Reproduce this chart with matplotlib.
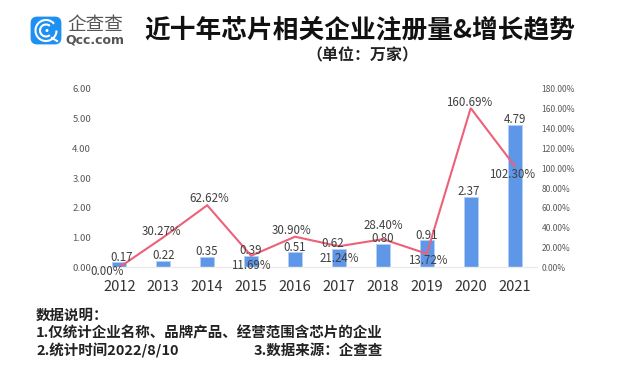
import matplotlib
matplotlib.use("Agg")
import matplotlib.pyplot as plt
from matplotlib.patches import FancyBboxPatch, Arc, Circle

plt.rcParams['font.family'] = ['Noto Sans CJK SC', 'DejaVu Sans']

years = ['2012', '2013', '2014', '2015', '2016', '2017', '2018', '2019', '2020', '2021']
counts = [0.17, 0.22, 0.35, 0.39, 0.51, 0.62, 0.80, 0.91, 2.37, 4.79]
growth = [0.00, 30.27, 62.62, 11.69, 30.90, 21.24, 28.40, 13.72, 160.69, 102.30]

left_ticks = [0, 1, 2, 3, 4, 5, 6]
right_ticks = [0, 20, 40, 60, 80, 100, 120, 140, 160, 180]

# label nudges in pixels, picked by eye
count_dx = [2, 0, -1, 0, 0, -6, 0, 0, -2, 0]
growth_off = [(-12, -4), (-1.5, 6), (2.5, 6.5), (0, -9.5), (-3, 6),
              (0, -12), (0, 14), (0.5, -6.5), (-1.5, 6), (-3, -9)]

BLUE = "#5E96E8"
PINK = "#EE6079"
GREY = "#404040"

W, H = 624, 378
fig = plt.figure(figsize=(W / 100, H / 100), dpi=100, facecolor="white")

ax = fig.add_axes([97.4 / W, 1 - 267.3 / H, 439.2 / W, 178.3 / H])
x = list(range(len(years)))
ax.bar(x, counts, width=0.32, color=BLUE, edgecolor="#B5CFF5", linewidth=0.6)
ax.set_xlim(-0.5, 9.5)
ax.set_ylim(0, 6)
ax.set_xticks(x)
ax.set_xticklabels(years, fontsize=10.6, color="#333333")
ax.set_yticks(left_ticks)
ax.set_yticklabels([f"{t:.2f}" for t in left_ticks], fontsize=6.9, color="#595959")
ax.tick_params(axis="both", length=0)
ax.tick_params(axis="x", pad=9.3)
ax.tick_params(axis="y", pad=4.5)
for s in ["top", "left", "right"]:
    ax.spines[s].set_visible(False)
ax.spines["bottom"].set_color("#EBEBEB")
ax.spines["bottom"].set_linewidth(1.0)

ax2 = ax.twinx()
ax2.plot(x, growth, color=PINK, linewidth=1.5, solid_joinstyle="miter")
ax2.set_ylim(0, 180)
ax2.set_yticks(right_ticks)
ax2.set_yticklabels([f"{t:.2f}%" for t in right_ticks], fontsize=6.1, color="#595959")
ax2.tick_params(axis="y", length=0, pad=3.6)
for s in ["top", "left", "right", "bottom"]:
    ax2.spines[s].set_visible(False)

for i, v in enumerate(counts):
    ax2.annotate(f"{v:.2f}", xy=(i, v * 30), xytext=(count_dx[i], 5), textcoords="offset pixels",
                 ha="center", va="center", fontsize=8.3, color=GREY)
for i, v in enumerate(growth):
    ax2.annotate(f"{v:.2f}%", xy=(i, v), xytext=growth_off[i], textcoords="offset pixels",
                 ha="center", va="center", fontsize=8.3, color=GREY)

# overlay in pixel coordinates for title, notes and logo
top = fig.add_axes([0, 0, 1, 1], facecolor="none")
top.set_xlim(0, W)
top.set_ylim(H, 0)
top.axis("off")

top.text(360, 30, "近十年芯片相关企业注册量&增长趋势", fontsize=18.5, fontweight="bold",
         ha="center", va="center", color="#111111")
top.text(362, 55, "（单位：万家）", fontsize=11.5, fontweight="bold",
         ha="center", va="center", color="#222222")

top.text(36, 316, "数据说明：", fontsize=10.45, fontweight="bold", va="center", color="#222222")
top.text(36, 333, "1.仅统计企业名称、品牌产品、经营范围含芯片的企业", fontsize=10.45, fontweight="bold",
         va="center", color="#222222")
top.text(36, 351, "2.统计时间2022/8/10", fontsize=10.45, fontweight="bold", va="center", color="#222222")
top.text(254, 351, "3.数据来源：企查查", fontsize=10.45, fontweight="bold", va="center", color="#222222")

# logo
top.add_patch(FancyBboxPatch((32, 18), 28, 25, boxstyle="round,pad=0,rounding_size=5",
                             facecolor="#1E90F2", edgecolor="#1E90F2", linewidth=2))
top.add_patch(Arc((46, 30.5), 21, 21, theta1=0, theta2=320, color="white", linewidth=1.5))
top.add_patch(Arc((46, 30.5), 12, 12, theta1=50, theta2=310, color="white", linewidth=1.5))
top.add_patch(Circle((47, 30.5), 1.5, facecolor="white", edgecolor="none"))
top.plot([52, 57], [38, 41], color="white", linewidth=1.5)
top.text(95, 25, "企查查", fontsize=13.4, ha="center", va="center", color="#555555")
top.text(95, 40, "Qcc.com", fontsize=9, fontweight="bold", family="DejaVu Sans",
         ha="center", va="center", color="#555555")

fig.savefig("out.png", dpi=100)
